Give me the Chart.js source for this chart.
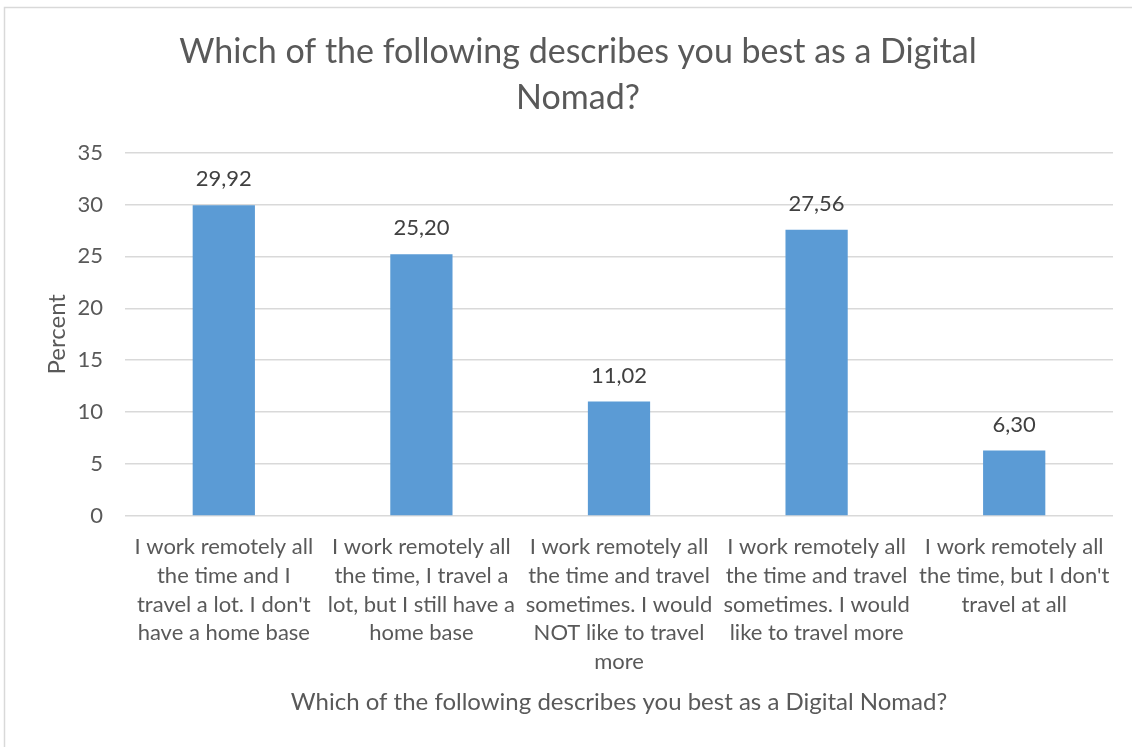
<!DOCTYPE html>
<html>
<head>
<meta charset="utf-8">
<script src="https://cdn.jsdelivr.net/npm/chart.js@4"></script>
<style>
  html, body { margin: 0; padding: 0; background: #fff; }
  #wrap { position: relative; width: 1132px; height: 747px; }
</style>
</head>
<body>
<div id="wrap"><canvas id="c" width="1132" height="747"></canvas></div>
<script>
const chartTitle = ['Which of the following describes you best as a Digital', 'Nomad?'];
const xAxisTitle = 'Which of the following describes you best as a Digital Nomad?';
const yAxisTitle = 'Percent';
const categories = [
  ['I work remotely all', 'the time and I', 'travel a lot. I don\'t', 'have a home base'],
  ['I work remotely all', 'the time, I travel a', 'lot, but I still have a', 'home base'],
  ['I work remotely all', 'the time and travel', 'sometimes. I would', 'NOT like to travel', 'more'],
  ['I work remotely all', 'the time and travel', 'sometimes. I would', 'like to travel more'],
  ['I work remotely all', 'the time, but I don\'t', 'travel at all']
];
const percentValues = [29.92, 25.20, 11.02, 27.56, 6.30];
const yTicks = [0, 5, 10, 15, 20, 25, 30, 35];

const FONT = 'Lato, "Open Sans", sans-serif';
const TEXT = '#595959';

const frame = {
  id: 'frame',
  beforeDraw(chart) {
    const ctx = chart.ctx;
    ctx.save();
    ctx.fillStyle = '#ffffff';
    ctx.fillRect(0, 0, chart.width, chart.height);
    ctx.strokeStyle = '#d9d9d9';
    ctx.lineWidth = 1.5;
    ctx.strokeRect(4.5, 7.5, chart.width + 20, chart.height + 20);
    ctx.restore();
  }
};

const valueLabels = {
  id: 'valueLabels',
  afterDatasetsDraw(chart) {
    const ctx = chart.ctx;
    const meta = chart.getDatasetMeta(0);
    ctx.save();
    ctx.font = '22px ' + FONT;
    ctx.fillStyle = '#404040';
    ctx.textAlign = 'center';
    ctx.textBaseline = 'middle';
    meta.data.forEach((bar, i) => {
      const v = chart.data.datasets[0].data[i];
      ctx.fillText(v.toFixed(2).replace('.', ','), bar.x, bar.y - 26);
    });
    ctx.restore();
  }
};

new Chart(document.getElementById('c'), {
  type: 'bar',
  data: {
    labels: categories,
    datasets: [{
      data: percentValues,
      backgroundColor: '#5b9bd5',
      borderWidth: 0,
      barPercentage: 0.315,
      categoryPercentage: 1
    }]
  },
  options: {
    responsive: false,
    animation: false,
    devicePixelRatio: 1,
    layout: { padding: { top: 29, left: 43, right: 19, bottom: 30 } },
    plugins: {
      legend: { display: false },
      tooltip: { enabled: false },
      title: {
        display: true,
        text: chartTitle,
        color: TEXT,
        font: { family: FONT, size: 34, weight: 'normal', lineHeight: 1.36 },
        padding: { top: 0, bottom: 31 }
      }
    },
    scales: {
      x: {
        afterFit(scale) { scale.height = 201; },
        grid: { display: false, drawTicks: false },
        border: { display: false },
        ticks: {
          color: TEXT,
          font: { family: FONT, size: 22, lineHeight: 1.3 },
          padding: 17,
          autoSkip: false,
          maxRotation: 0,
          minRotation: 0
        },
        title: {
          display: true,
          text: xAxisTitle,
          color: TEXT,
          font: { family: FONT, size: 24, lineHeight: 1.2 },
          padding: { top: 14, bottom: 0 }
        }
      },
      y: {
        min: 0,
        max: 35,
        afterFit(scale) { scale.width = 82; },
        afterBuildTicks(scale) { scale.ticks = yTicks.map(v => ({ value: v })); },
        grid: { color: '#d9d9d9', lineWidth: 1.5, drawTicks: false },
        border: { display: false },
        ticks: {
          color: TEXT,
          font: { family: FONT, size: 22 },
          padding: 22
        },
        title: {
          display: true,
          text: yAxisTitle,
          color: TEXT,
          font: { family: FONT, size: 24, lineHeight: 1.2 },
          padding: { top: 0, bottom: 0 }
        }
      }
    }
  },
  plugins: [frame, valueLabels]
});
</script>
</body>
</html>
